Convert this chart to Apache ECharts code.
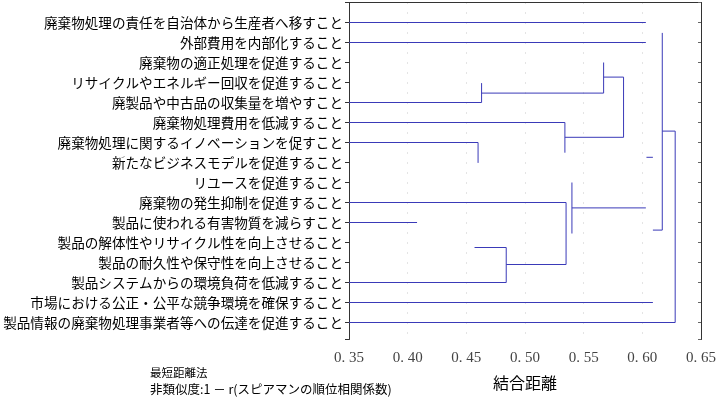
<!DOCTYPE html>
<html>
<head>
<meta charset="utf-8">
<script src="https://cdn.jsdelivr.net/npm/echarts@6/dist/echarts.min.js"></script>
<style>
  html, body { margin: 0; padding: 0; background: #fff; }
  #main { width: 719px; height: 399px; }
</style>
</head>
<body>
<div id="main"></div>
<script>
// item names, top to bottom
var items = [
    '廃棄物処理の責任を自治体から生産者へ移すこと',
    '外部費用を内部化すること',
    '廃棄物の適正処理を促進すること',
    'リサイクルやエネルギー回収を促進すること',
    '廃製品や中古品の収集量を増やすこと',
    '廃棄物処理費用を低減すること',
    '廃棄物処理に関するイノベーションを促すこと',
    '新たなビジネスモデルを促進すること',
    'リユースを促進すること',
    '廃棄物の発生抑制を促進すること',
    '製品に使われる有害物質を減らすこと',
    '製品の解体性やリサイクル性を向上させること',
    '製品の耐久性や保守性を向上させること',
    '製品システムからの環境負荷を低減すること',
    '市場における公正・公平な競争環境を確保すること',
    '製品情報の廃棄物処理事業者等への伝達を促進すること'
];

// distance where each item's branch ends (null = no branch drawn)
var leafEnd = [0.603, 0.603, null, null, 0.463, 0.534, 0.460, null,
               null, 0.535, 0.408, null, null, 0.484, 0.609, 0.628];

// vertical links: [distance, row from, row to]
var vLinks = [
    [0.567, 3.0, 4.53],
    [0.463, 4.03, 5.0],
    [0.584, 3.73, 6.74],
    [0.534, 6.0, 7.51],
    [0.460, 7.0, 8.02],
    [0.617, 1.52, 11.38],
    [0.628, 6.43, 16.0],
    [0.540, 9.0, 11.55],
    [0.535, 10.0, 13.1],
    [0.484, 12.25, 14.0]
];

// horizontal links: [row, distance from, distance to]
var hLinks = [
    [4.53, 0.463, 0.567],
    [3.73, 0.567, 0.584],
    [6.74, 0.534, 0.584],
    [7.74, 0.6035, 0.609],
    [11.38, 0.609, 0.617],
    [6.43, 0.617, 0.628],
    [10.27, 0.540, 0.603],
    [13.1, 0.484, 0.535],
    [12.25, 0.457, 0.484]
];

var xTicks = [0.35, 0.65, 0.05]; // min, max, step

var segs = [];
leafEnd.forEach(function(d, i) {
    if (d !== null) segs.push([[xTicks[0], i + 1], [d, i + 1]]);
});
vLinks.forEach(function(v) {
    segs.push([[v[0], v[1]], [v[0], v[2]]]);
});
hLinks.forEach(function(h) {
    segs.push([[h[1], h[0]], [h[2], h[0]]]);
});

var series = segs.map(function(s) {
    return {
        type: 'line',
        data: s,
        showSymbol: false,
        symbol: 'none',
        silent: true,
        lineStyle: { color: '#3a3ab8', width: 1 },
        itemStyle: { color: '#3a3ab8' }
    };
});

var chart = echarts.init(document.getElementById('main'));

var option = {
    animation: false,
    grid: { left: 349, right: 15, top: 2.5, bottom: 59.5 },
    xAxis: [{
        type: 'value',
        min: xTicks[0], max: xTicks[1], interval: xTicks[2],
        position: 'bottom',
        axisLine: { show: false },
        axisTick: { show: false },
        axisLabel: {
            margin: 11,
            color: '#444',
            fontFamily: 'Liberation Serif',
            fontSize: 15,
            formatter: function(v) { return v.toFixed(2).replace('.', '. '); }
        },
        splitLine: { show: true, lineStyle: { color: '#c8c8c8', type: [1, 9], width: 1 } },
        name: '結合距離',
        nameLocation: 'middle',
        nameGap: 35,
        nameTextStyle: { color: '#000', fontSize: 16, fontFamily: 'Noto Sans CJK JP' }
    }, {
        type: 'value',
        min: xTicks[0], max: xTicks[1], interval: xTicks[2],
        position: 'top',
        axisLine: { show: true, lineStyle: { color: '#333', width: 1 } },
        axisTick: { show: false },
        axisLabel: { show: false },
        splitLine: { show: false }
    }],
    yAxis: [{
        type: 'value',
        inverse: true,
        min: 0, max: 16.85, interval: 1,
        position: 'left',
        axisLine: { show: true, lineStyle: { color: '#333', width: 1 } },
        axisTick: { show: true, length: 4, lineStyle: { color: '#333' } },
        axisLabel: {
            margin: 6,
            color: '#000',
            fontSize: 13.6,
            fontFamily: 'Noto Sans CJK JP',
            formatter: function(v) {
                return Number.isInteger(v) && v >= 1 ? (items[v - 1] || '') : '';
            }
        },
        splitLine: { show: false }
    }, {
        type: 'value',
        inverse: true,
        min: 0, max: 16.85, interval: 1,
        position: 'right',
        axisLine: { show: true, lineStyle: { color: '#333', width: 1 } },
        axisTick: { show: true, inside: true, length: 3, lineStyle: { color: '#666' } },
        axisLabel: { show: false },
        splitLine: { show: false }
    }],
    graphic: [{
        type: 'text', left: 150, top: 367,
        style: { text: '最短距離法', fontSize: 11.5, fill: '#000', fontFamily: 'Noto Sans CJK JP' }
    }, {
        type: 'text', left: 150, top: 383,
        style: { text: '非類似度:1 － r(スピアマンの順位相関係数)', fontSize: 12.5, fill: '#000', fontFamily: 'Noto Sans CJK JP' }
    }],
    series: series
};

chart.setOption(option);
</script>
</body>
</html>
